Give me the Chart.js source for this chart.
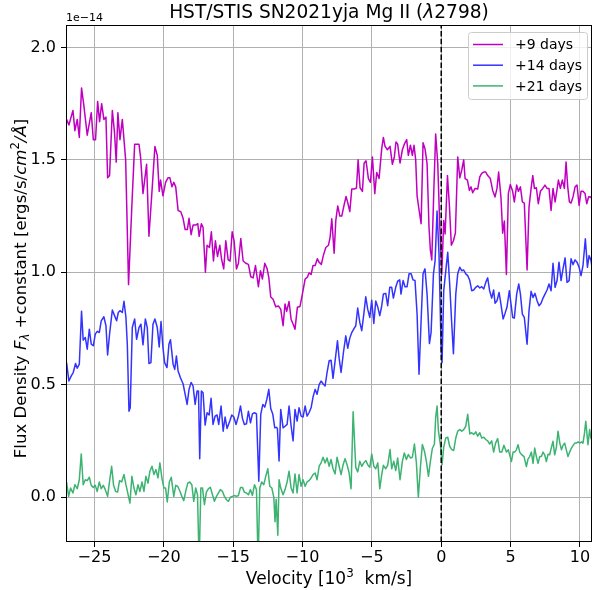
<!DOCTYPE html>
<html>
<head>
  <meta charset="UTF-8">
  <title>HST/STIS SN2021yja Mg II</title>
  <script src="https://cdn.jsdelivr.net/npm/chart.js"></script>
  <style>body { margin: 0; background: #fff; }</style>
</head>
<body>
<canvas id="specChart" width="593" height="590"></canvas>
<script>
// velocities in 10^3 km/s, flux in units of 1e-14
var magV = [
  -27.01,-26.84,-26.55,-26.41,-26.24,-26.09,-25.93,-25.76,-25.52,-25.23,
  -25.08,-24.92,-24.77,-24.63,-24.48,-24.32,-24.17,-24.05,-23.91,-23.71,
  -23.55,-23.43,-23.31,-23.16,-22.99,-22.75,-22.54,-22.32,-22.10,-21.79,
  -21.67,-21.50,-21.24,-21.07,-20.83,-20.64,-20.47,-20.33,-20.23,-20.06,
  -19.87,-19.70,-19.56,-19.41,-19.28,-19.14,-18.97,-18.78,-18.61,-18.46,
  -18.30,-18.18,-18.03,-17.89,-17.70,-17.55,-17.45,-17.29,-17.17,-17.00,
  -16.88,-16.71,-16.57,-16.42,-16.28,-16.13,-15.96,-15.84,-15.68,-15.53,
  -15.36,-15.22,-15.07,-14.93,-14.76,-14.62,-14.45,-14.28,-14.09,-13.90,
  -13.73,-13.56,-13.39,-13.18,-13.03,-12.89,-12.72,-12.55,-12.43,-12.29,
  -12.12,-11.93,-11.74,-11.57,-11.40,-11.26,-11.14,-10.97,-10.82,-10.68,
  -10.54,-10.37,-10.18,-10.01,-9.81,-9.65,-9.53,-9.38,-9.24,-9.09,
  -8.93,-8.81,-8.64,-8.50,-8.32,-8.13,-8.01,-7.89,-7.72,-7.60,
  -7.46,-7.31,-7.17,-7.00,-6.86,-6.74,-6.59,-6.45,-6.26,-6.11,
  -5.99,-5.85,-5.68,-5.56,-5.42,-5.25,-5.10,-4.96,-4.79,-4.65,
  -4.48,-4.29,-4.17,-4.05,-3.88,-3.69,-3.52,-3.38,-3.26,-3.14,
  -2.97,-2.80,-2.66,-2.49,-2.37,-2.22,-2.08,-1.96,-1.84,-1.74,
  -1.60,-1.45,-1.31,-1.17,-1.02,-0.88,-0.78,-0.68,-0.54,-0.40,
  -0.25,-0.11,0.04,0.18,0.28,0.45,0.59,0.73,0.88,1.02,
  1.19,1.34,1.48,1.62,1.72,1.89,2.03,2.15,2.27,2.44,
  2.63,2.78,2.92,3.07,3.21,3.35,3.54,3.71,3.88,4.02,
  4.14,4.31,4.43,4.55,4.70,4.84,4.98,5.15,5.27,5.44,
  5.56,5.71,5.85,5.99,6.19,6.33,6.48,6.60,6.72,6.86,
  7.00,7.15,7.32,7.48,7.63,7.77,7.92,8.06,8.21,8.33,
  8.45,8.59,8.73,8.88,9.00,9.12,9.24,9.36,9.50,9.65,
  9.79,9.94,10.08,10.22,10.37,10.49,10.63,10.78,10.92
];
var magF = [
  1.680,1.655,1.720,1.630,1.680,1.600,1.820,1.740,1.610,1.710,
  1.590,1.590,1.760,1.670,1.750,1.680,1.690,1.420,1.430,1.720,
  1.620,1.490,1.710,1.590,1.680,1.500,0.945,1.270,1.570,1.570,
  1.510,1.350,1.480,1.160,1.380,1.560,1.520,1.360,1.410,1.340,
  1.400,1.420,1.420,1.380,1.400,1.380,1.275,1.270,1.240,1.190,
  1.190,1.240,1.167,1.210,1.210,1.216,1.160,1.216,1.200,1.000,
  1.120,1.110,1.180,1.050,1.140,1.070,1.120,1.060,1.015,1.140,
  1.055,1.050,1.180,1.140,1.015,1.040,1.150,1.050,1.040,1.035,
  0.980,0.975,1.030,0.936,1.007,0.970,1.040,1.015,0.977,0.890,
  0.880,0.847,0.850,0.836,0.762,0.859,0.826,0.870,0.790,0.770,
  0.747,0.844,0.848,0.903,0.970,0.978,0.997,0.990,1.030,1.030,
  1.060,1.045,1.035,1.074,1.110,1.120,1.156,1.238,1.085,1.230,
  1.295,1.250,1.250,1.300,1.337,1.310,1.270,1.370,1.370,1.375,
  1.500,1.376,1.360,1.485,1.496,1.417,1.400,1.513,1.350,1.444,
  1.417,1.550,1.600,1.560,1.545,1.560,1.480,1.513,1.580,1.570,
  1.486,1.545,1.570,1.590,1.520,1.565,1.520,1.565,1.500,1.340,
  1.278,1.216,1.576,1.550,1.483,1.200,1.097,1.055,1.350,1.615,
  1.483,1.216,0.990,1.230,1.170,1.430,1.296,1.120,1.140,1.174,
  1.513,1.420,1.455,1.500,1.417,1.410,1.364,1.380,1.354,1.373,
  1.370,1.424,1.440,1.446,1.446,1.430,1.417,1.364,1.335,1.373,
  1.446,1.330,1.174,1.228,0.990,1.350,1.390,1.360,1.313,1.388,
  1.360,1.380,1.313,1.308,1.010,1.290,1.373,1.430,1.373,1.376,
  1.305,1.360,1.373,1.388,1.373,1.373,1.275,1.373,1.313,1.360,
  1.410,1.373,1.410,1.373,1.490,1.380,1.313,1.308,1.335,1.380,
  1.388,1.297,1.360,1.360,1.350,1.305,1.336,1.335,1.320
];

var blueV = [
  -27.01,-26.84,-26.67,-26.53,-26.36,-26.24,-26.09,-25.93,-25.81,-25.66,
  -25.52,-25.37,-25.23,-25.08,-24.94,-24.80,-24.65,-24.51,-24.32,-24.17,
  -24.05,-23.91,-23.71,-23.55,-23.40,-23.28,-23.16,-22.99,-22.87,-22.73,
  -22.63,-22.51,-22.42,-22.27,-22.10,-21.96,-21.79,-21.65,-21.50,-21.33,
  -21.19,-21.07,-20.93,-20.78,-20.64,-20.47,-20.33,-20.20,-20.06,-19.94,
  -19.77,-19.63,-19.52,-19.43,-19.33,-19.21,-19.09,-18.97,-18.80,-18.61,
  -18.46,-18.32,-18.18,-18.03,-17.89,-17.74,-17.60,-17.50,-17.41,-17.29,
  -17.17,-17.02,-16.88,-16.73,-16.59,-16.45,-16.30,-16.16,-16.04,-15.87,
  -15.72,-15.58,-15.44,-15.24,-15.10,-14.95,-14.79,-14.62,-14.47,-14.33,
  -14.19,-14.04,-13.90,-13.75,-13.61,-13.46,-13.32,-13.15,-13.01,-12.86,
  -12.72,-12.57,-12.43,-12.29,-12.14,-12.00,-11.88,-11.81,-11.69,-11.57,
  -11.40,-11.26,-11.11,-10.97,-10.82,-10.68,-10.54,-10.39,-10.25,-10.10,
  -9.96,-9.81,-9.67,-9.53,-9.38,-9.24,-9.09,-8.95,-8.80,-8.66,
  -8.52,-8.37,-8.23,-8.08,-7.94,-7.80,-7.65,-7.48,-7.36,-7.22,
  -7.05,-6.88,-6.74,-6.59,-6.45,-6.31,-6.16,-6.02,-5.87,-5.73,
  -5.58,-5.44,-5.30,-5.15,-5.01,-4.86,-4.72,-4.57,-4.43,-4.29,
  -4.17,-4.00,-3.86,-3.71,-3.57,-3.45,-3.28,-3.14,-2.99,-2.90,
  -2.75,-2.61,-2.46,-2.32,-2.17,-2.03,-1.89,-1.74,-1.60,-1.45,
  -1.31,-1.17,-1.02,-0.85,-0.73,-0.56,-0.44,-0.30,-0.16,-0.01,
  0.06,0.18,0.33,0.47,0.61,0.76,0.88,1.05,1.19,1.34,
  1.48,1.62,1.77,1.91,2.06,2.20,2.34,2.49,2.63,2.78,
  2.92,3.07,3.21,3.35,3.49,3.64,3.78,3.88,4.02,4.17,
  4.31,4.46,4.60,4.74,4.91,5.03,5.15,5.27,5.44,5.59,
  5.71,5.85,5.99,6.19,6.33,6.48,6.62,6.76,6.91,7.05,
  7.20,7.34,7.48,7.63,7.77,7.92,8.06,8.21,8.35,8.49,
  8.64,8.78,8.93,9.07,9.22,9.36,9.50,9.65,9.79,9.94,
  10.08,10.22,10.39,10.54,10.66,10.80,10.92
];
var blueF = [
  0.598,0.516,0.539,0.554,0.594,0.573,0.591,0.826,0.698,0.710,
  0.658,0.747,0.680,0.673,0.725,0.737,0.732,0.784,0.802,0.762,
  0.632,0.725,0.832,0.807,0.784,0.821,0.829,0.821,0.871,0.800,
  0.680,0.382,0.397,0.754,0.792,0.702,0.754,0.769,0.677,0.792,
  0.754,0.594,0.598,0.769,0.792,0.754,0.668,0.781,0.665,0.598,
  0.576,0.680,0.700,0.650,0.591,0.568,0.628,0.561,0.531,0.504,
  0.457,0.412,0.479,0.510,0.494,0.412,0.472,0.472,0.170,0.472,
  0.464,0.320,0.375,0.365,0.439,0.323,0.360,0.365,0.323,0.405,
  0.293,0.356,0.305,0.338,0.365,0.356,0.323,0.360,0.405,0.350,
  0.323,0.326,0.382,0.330,0.370,0.375,0.370,0.070,0.368,0.412,
  0.400,0.435,0.479,0.394,0.368,0.308,0.310,0.305,0.160,0.390,
  0.308,0.315,0.323,0.405,0.315,0.250,0.390,0.338,0.397,0.360,
  0.356,0.405,0.360,0.375,0.397,0.445,0.479,0.457,0.500,0.516,
  0.504,0.494,0.554,0.606,0.609,0.528,0.606,0.695,0.618,0.554,
  0.643,0.717,0.662,0.707,0.732,0.747,0.762,0.841,0.777,0.740,
  0.814,0.891,0.836,0.799,0.875,0.772,0.872,0.844,0.807,0.850,
  0.903,0.906,0.851,0.933,0.933,0.885,0.933,0.960,0.966,0.903,
  0.963,0.936,0.936,0.993,0.993,0.966,0.963,0.814,0.546,0.784,
  0.993,1.015,0.903,0.683,0.732,0.993,1.052,1.272,1.082,0.665,
  0.598,0.918,1.007,1.089,0.948,0.769,0.638,0.903,0.993,1.022,
  1.007,1.010,0.993,0.985,0.963,0.918,0.921,0.933,0.940,0.930,
  0.936,0.926,0.955,0.975,0.918,0.885,0.921,0.862,0.873,0.910,
  0.856,0.792,0.817,0.844,0.918,0.859,0.799,0.796,0.903,0.948,
  0.903,0.814,0.799,0.680,0.829,0.915,0.888,0.906,0.873,0.851,
  0.862,0.885,0.903,0.921,0.948,0.918,1.040,0.933,0.963,1.045,
  0.963,1.015,1.064,0.955,0.963,1.060,1.034,1.055,1.045,1.022,
  0.985,1.030,1.149,1.022,1.074,1.052,1.000
];

var greenV = [
  -27.01,-26.86,-26.72,-26.55,-26.41,-26.24,-26.09,-25.95,-25.81,-25.66,
  -25.52,-25.37,-25.23,-25.08,-24.94,-24.80,-24.65,-24.51,-24.36,-24.22,
  -24.05,-23.91,-23.76,-23.62,-23.47,-23.33,-23.19,-23.04,-22.87,-22.73,
  -22.58,-22.44,-22.30,-22.15,-22.01,-21.86,-21.72,-21.57,-21.43,-21.29,
  -21.14,-21.00,-20.85,-20.71,-20.57,-20.42,-20.28,-20.13,-19.99,-19.87,
  -19.75,-19.60,-19.46,-19.28,-19.14,-19.00,-18.85,-18.70,-18.56,-18.42,
  -18.27,-18.13,-17.98,-17.84,-17.70,-17.57,-17.45,-17.33,-17.21,-17.07,
  -16.93,-16.78,-16.64,-16.49,-16.35,-16.20,-16.06,-15.92,-15.77,-15.63,
  -15.48,-15.34,-15.20,-15.05,-14.91,-14.76,-14.62,-14.47,-14.33,-14.19,
  -14.04,-13.90,-13.75,-13.61,-13.46,-13.32,-13.20,-13.08,-12.94,-12.79,
  -12.65,-12.50,-12.36,-12.21,-12.07,-11.98,-11.90,-11.78,-11.69,-11.57,
  -11.40,-11.26,-11.11,-10.97,-10.82,-10.68,-10.54,-10.39,-10.25,-10.10,
  -9.96,-9.81,-9.67,-9.53,-9.38,-9.24,-9.09,-8.95,-8.80,-8.66,
  -8.52,-8.37,-8.23,-8.08,-7.94,-7.80,-7.65,-7.51,-7.36,-7.22,
  -7.07,-6.93,-6.79,-6.64,-6.50,-6.35,-6.16,-6.02,-5.87,-5.73,
  -5.58,-5.44,-5.30,-5.15,-5.01,-4.86,-4.72,-4.57,-4.43,-4.29,
  -4.17,-4.00,-3.86,-3.69,-3.57,-3.42,-3.28,-3.14,-2.97,-2.80,
  -2.66,-2.51,-2.37,-2.22,-2.08,-1.93,-1.79,-1.65,-1.50,-1.36,
  -1.21,-1.07,-0.92,-0.78,-0.64,-0.49,-0.40,-0.30,-0.20,-0.06,
  0.06,0.18,0.33,0.47,0.61,0.76,0.90,1.05,1.19,1.34,
  1.48,1.62,1.77,1.91,2.06,2.20,2.34,2.49,2.63,2.78,
  2.92,3.07,3.21,3.35,3.49,3.64,3.78,3.92,4.07,4.22,
  4.37,4.52,4.70,4.84,5.06,5.18,5.30,5.42,5.54,5.66,
  5.78,5.97,6.14,6.26,6.38,6.50,6.62,6.74,6.86,6.98,
  7.10,7.22,7.34,7.46,7.58,7.70,7.82,7.94,8.06,8.18,
  8.30,8.42,8.55,8.67,8.78,8.90,9.02,9.14,9.26,9.39,
  9.51,9.63,9.75,9.87,9.99,10.11,10.22,10.32,10.42,10.58,
  10.70,10.80,10.92
];
var greenF = [
  0.067,0.003,0.040,0.018,0.055,0.037,0.077,0.192,0.055,0.077,
  0.073,0.088,0.052,0.043,0.052,0.025,0.067,0.037,0.052,0.033,
  0.003,0.070,0.137,0.052,0.025,0.022,0.073,0.067,0.100,0.055,
  0.013,-0.027,0.092,0.040,0.010,0.055,0.025,0.067,0.025,0.092,
  0.062,0.115,0.137,0.100,0.122,0.085,0.152,0.082,0.040,0.040,
  -0.022,0.067,0.088,0.003,0.052,0.048,0.028,0.003,-0.016,0.025,
  0.062,0.067,0.055,-0.019,0.040,0.010,-0.300,0.040,0.040,-0.034,
  0.022,0.037,0.043,0.010,-0.019,0.003,0.018,0.033,0.025,0.003,
  -0.012,-0.019,-0.001,0.003,0.007,0.003,0.007,0.043,0.043,0.022,
  0.018,0.010,0.033,0.007,0.055,0.033,-0.300,0.040,0.067,0.055,
  0.092,0.126,0.048,0.040,0.000,-0.110,-0.010,-0.170,0.077,0.040,
  0.010,0.033,0.067,0.115,0.040,0.018,0.103,0.018,0.100,0.048,
  0.077,0.048,0.067,0.073,0.085,0.100,0.107,0.077,0.137,0.152,
  0.177,0.152,0.174,0.137,0.167,0.126,0.103,0.177,0.137,0.100,
  0.144,0.171,0.144,0.107,0.037,0.379,0.132,0.112,0.159,0.137,
  0.152,0.162,0.144,0.132,0.192,0.137,0.126,0.152,0.037,0.100,
  0.141,0.126,0.141,0.211,0.126,0.159,0.118,0.174,0.077,0.159,
  0.196,0.167,0.189,0.174,0.177,0.236,0.152,-0.001,0.132,0.234,
  0.204,0.159,0.092,0.159,0.216,0.236,0.353,0.405,0.293,0.234,
  0.144,0.222,0.263,0.266,0.226,0.211,0.207,0.263,0.293,0.300,
  0.293,0.300,0.315,0.368,0.281,0.286,0.278,0.290,0.271,0.286,
  0.263,0.266,0.256,0.250,0.236,0.250,0.200,0.240,0.260,0.200,
  0.200,0.230,0.200,0.210,0.158,0.200,0.200,0.210,0.233,0.200,
  0.190,0.180,0.136,0.170,0.180,0.200,0.150,0.218,0.180,0.150,
  0.180,0.180,0.200,0.188,0.158,0.190,0.188,0.220,0.248,0.188,
  0.220,0.293,0.240,0.210,0.230,0.240,0.210,0.180,0.200,0.218,
  0.230,0.240,0.240,0.245,0.240,0.245,0.240,0.280,0.337,0.233,
  0.300,0.260,0.263
];

var seriesLabels = ['+9 days', '+14 days', '+21 days'];
var xTicks = [-25, -20, -15, -10, -5, 0, 5, 10];
var yTicks = [0.0, 0.5, 1.0, 1.5, 2.0];
var restVelocity = 0;

var FONT = '"DejaVu Sans"';

function toPoints(v, f) {
  return v.map(function (x, i) { return { x: x, y: f[i] }; });
}

function fmtTick(v, digits) {
  var s = Math.abs(v).toFixed(digits);
  return v < 0 ? '\u2212' + s : s;
}

// draw a line of text made of pieces with different styles, centred on cx
function richText(ctx, parts, cx, baseY, size) {
  function setFont(p) {
    ctx.font = (p.it ? 'italic ' : '') + (size * (p.sc || 1)) + 'px ' + FONT;
  }
  var w = 0;
  parts.forEach(function (p) { setFont(p); w += ctx.measureText(p.t).width; });
  var x = cx - w / 2;
  ctx.textAlign = 'left';
  ctx.textBaseline = 'alphabetic';
  parts.forEach(function (p) {
    setFont(p);
    ctx.fillText(p.t, x, baseY + (p.dy || 0) * size);
    x += ctx.measureText(p.t).width;
  });
}

var decorations = {
  id: 'decorations',
  afterDatasetsDraw: function (chart) {
    var ctx = chart.ctx, a = chart.chartArea;
    var px = chart.scales.x.getPixelForValue(restVelocity);
    ctx.save();
    ctx.strokeStyle = '#000';
    ctx.lineWidth = 1.5;
    ctx.setLineDash([5.5, 2.4]);
    ctx.beginPath();
    ctx.moveTo(px, a.bottom);
    ctx.lineTo(px, a.top);
    ctx.stroke();
    ctx.restore();
  },
  afterDraw: function (chart) {
    var ctx = chart.ctx, a = chart.chartArea;
    ctx.save();
    ctx.fillStyle = '#000';

    // axes frame
    ctx.strokeStyle = '#000';
    ctx.lineWidth = 1;
    ctx.strokeRect(a.left + 0.5, a.top + 0.5, a.width - 1, a.height - 1);

    // title
    richText(ctx, [
      { t: 'HST/STIS SN2021yja Mg II (' },
      { t: '\u03bb', it: true },
      { t: '2798)' }
    ], (a.left + a.right) / 2, 18, 18.6);

    // offset text
    ctx.font = '11px ' + FONT;
    ctx.textAlign = 'left';
    ctx.textBaseline = 'alphabetic';
    ctx.fillText('1e\u221214', a.left, 21);

    // x label
    richText(ctx, [
      { t: 'Velocity [10' },
      { t: '3', sc: 0.7, dy: -0.4 },
      { t: '  km/s]' }
    ], (a.left + a.right) / 2, 584, 17);

    // y label
    ctx.save();
    ctx.translate(26, (a.top + a.bottom) / 2 + 5);
    ctx.rotate(-Math.PI / 2);
    richText(ctx, [
      { t: 'Flux Density ' },
      { t: 'F', it: true },
      { t: '\u03bb', it: true, sc: 0.7, dy: 0.2 },
      { t: ' +constant [ergs/s/' },
      { t: 'cm', it: true },
      { t: '2', sc: 0.7, dy: -0.4 },
      { t: '/\u00c5', it: true },
      { t: ']' }
    ], 0, 0, 16.6);
    ctx.restore();

    // legend
    var lx = 468.5, ly = 32.5, lw = 119, lh = 67;
    ctx.beginPath();
    ctx.roundRect(lx, ly, lw, lh, 3);
    ctx.fillStyle = 'rgba(255,255,255,0.8)';
    ctx.fill();
    ctx.strokeStyle = '#cccccc';
    ctx.lineWidth = 1;
    ctx.stroke();
    ctx.font = '14px ' + FONT;
    ctx.textBaseline = 'middle';
    ctx.textAlign = 'left';
    chart.data.datasets.forEach(function (ds, i) {
      var yy = 44.5 + i * 20.7;
      ctx.strokeStyle = ds.borderColor;
      ctx.lineWidth = 1.5;
      ctx.beginPath();
      ctx.moveTo(473, yy);
      ctx.lineTo(503, yy);
      ctx.stroke();
      ctx.fillStyle = '#000';
      ctx.fillText(ds.label, 515, yy + 1);
    });
    ctx.restore();
  }
};

var gridOpts = { color: '#b0b0b0', lineWidth: 1, tickColor: '#000', tickLength: 5 };

new Chart(document.getElementById('specChart').getContext('2d'), {
  type: 'line',
  data: {
    datasets: [
      { label: seriesLabels[0], data: toPoints(magV, magF), borderColor: '#c000c0', order: 2 },
      { label: seriesLabels[1], data: toPoints(blueV, blueF), borderColor: '#3333ff', order: 1 },
      { label: seriesLabels[2], data: toPoints(greenV, greenF), borderColor: '#3cb371', order: 0 }
    ]
  },
  options: {
    responsive: false,
    animation: false,
    devicePixelRatio: 1,
    layout: { padding: { top: 25, right: 1, bottom: 0, left: 0 } },
    elements: {
      line: { borderWidth: 1.5, tension: 0, borderJoinStyle: 'round', fill: false },
      point: { radius: 0, hoverRadius: 0 }
    },
    plugins: {
      legend: { display: false },
      title: { display: false },
      tooltip: { enabled: false }
    },
    scales: {
      x: {
        type: 'linear',
        min: -27.05,
        max: 10.87,
        grid: gridOpts,
        border: { display: false },
        afterBuildTicks: function (s) { s.ticks = xTicks.map(function (v) { return { value: v }; }); },
        afterFit: function (s) { s.height = 48; s.paddingLeft = 0; s.paddingRight = 0; },
        ticks: {
          color: '#000',
          font: { family: FONT, size: 16 },
          padding: 1,
          maxRotation: 0,
          autoSkip: false,
          callback: function (v) { return fmtTick(v, 0); }
        }
      },
      y: {
        type: 'linear',
        min: -0.2,
        max: 2.1,
        grid: gridOpts,
        border: { display: false },
        afterBuildTicks: function (s) { s.ticks = yTicks.map(function (v) { return { value: v }; }); },
        afterFit: function (s) { s.width = 66; s.paddingTop = 0; s.paddingBottom = 0; },
        ticks: {
          color: '#000',
          font: { family: FONT, size: 16 },
          padding: 5,
          callback: function (v) { return fmtTick(v, 1); }
        }
      }
    }
  },
  plugins: [decorations]
});
</script>
</body>
</html>
